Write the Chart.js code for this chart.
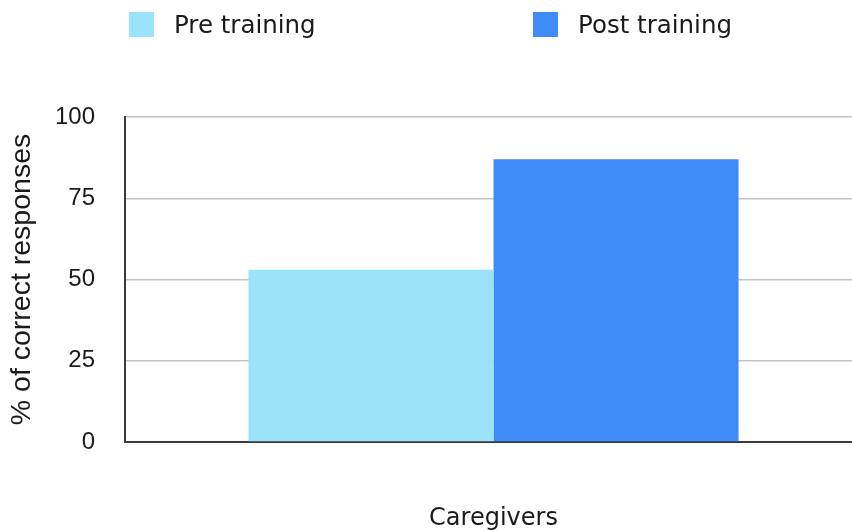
<!DOCTYPE html>
<html>
<head>
<meta charset="utf-8">
<script src="https://cdn.jsdelivr.net/npm/chart.js@4.4.1/dist/chart.umd.min.js"></script>
<style>
  html, body { margin: 0; padding: 0; background: #fff; overflow: hidden; }
  #wrap { position: relative; width: 862px; height: 530px; }
  #legend { position: absolute; left: 0; top: 0; width: 852px; height: 50px; font-family: "DejaVu Sans", sans-serif; font-size: 24.5px; color: #1a1a1a; }
  .item { position: absolute; top: 12px; display: flex; align-items: center; height: 25px; }
  .box { width: 25px; height: 25px; margin-right: 20px; }
</style>
</head>
<body>
<div id="wrap">
  <canvas id="chart" width="862" height="530"></canvas>
  <div id="legend"></div>
</div>
<script>
// data
const categories = ['Caregivers'];
const seriesNames = ['Pre training', 'Post training'];
const preValues = [53];
const postValues = [87];
const yTicks = [0, 25, 50, 75, 100];

const colors = ['#9ae3fb', '#3f8bf8'];
const legendLeft = [129, 533];

const chart = new Chart(document.getElementById('chart'), {
    type: 'bar',
    data: {
        labels: categories,
        datasets: [
            { label: seriesNames[0], data: preValues, backgroundColor: colors[0], borderWidth: 0 },
            { label: seriesNames[1], data: postValues, backgroundColor: colors[1], borderWidth: 0 }
        ]
    },
    options: {
        responsive: false,
        animation: false,
        layout: { padding: { top: 117, right: 0, bottom: 0, left: 0 } },
        datasets: { bar: { categoryPercentage: 0.665, barPercentage: 1 } },
        plugins: {
            legend: { display: false },
            tooltip: { enabled: false }
        },
        scales: {
            x: {
                afterFit: (scale) => { scale.height = 88; },
                grid: { display: false, drawTicks: false },
                border: { display: true, color: '#3a3a3a', width: 2 },
                ticks: {
                    padding: 62,
                    color: '#1a1a1a',
                    font: { family: 'DejaVu Sans', size: 24 }
                }
            },
            y: {
                min: 0,
                max: 100,
                afterBuildTicks: (scale) => { scale.ticks = yTicks.map(v => ({ value: v })); },
                afterFit: (scale) => { scale.width = 125; },
                grid: { color: '#c4c4c4', lineWidth: 1.5, drawTicks: false },
                border: { display: true, color: '#3a3a3a', width: 2 },
                ticks: {
                    padding: 30,
                    color: '#1a1a1a',
                    font: { family: 'Liberation Sans', size: 24 }
                },
                title: {
                    display: true,
                    text: '% of correct responses',
                    color: '#1a1a1a',
                    padding: { top: 5, bottom: 0 },
                    font: { family: 'Liberation Sans', size: 28.5 }
                }
            }
        }
    }
});

// html legend built from the chart's own labels
const legendEl = document.getElementById('legend');
Chart.defaults.plugins.legend.labels.generateLabels(chart).forEach((item, i) => {
    const el = document.createElement('div');
    el.className = 'item';
    el.style.left = legendLeft[i] + 'px';
    const box = document.createElement('span');
    box.className = 'box';
    box.style.background = item.fillStyle;
    const txt = document.createElement('span');
    txt.textContent = item.text;
    el.appendChild(box);
    el.appendChild(txt);
    legendEl.appendChild(el);
});
</script>
</body>
</html>
